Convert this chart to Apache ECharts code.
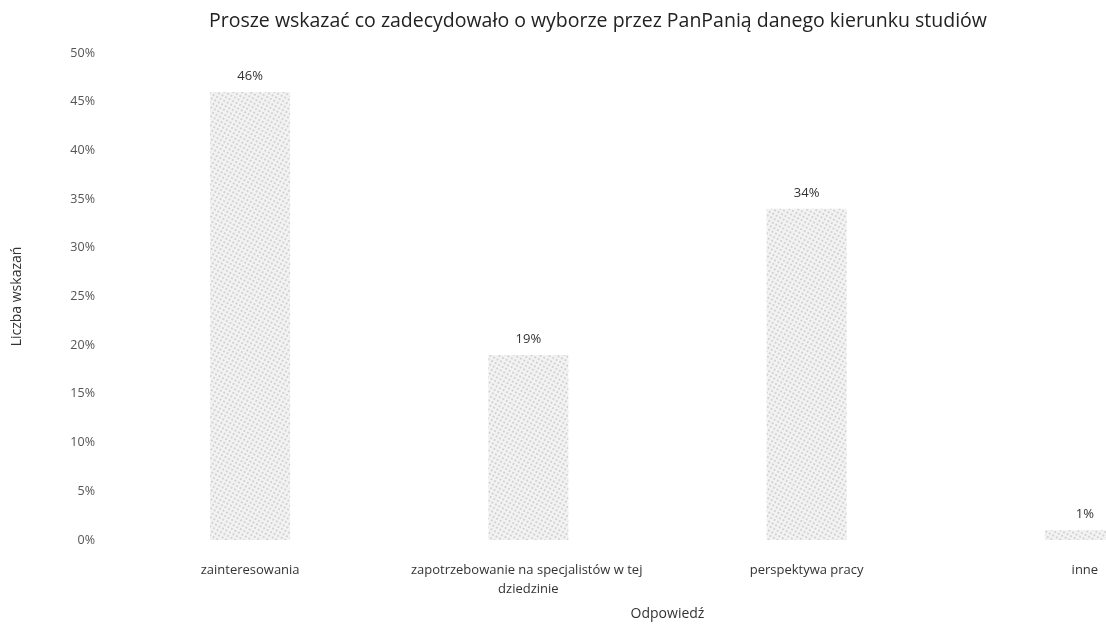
<!DOCTYPE html>
<html>
<head>
<meta charset="utf-8">
<script src="https://cdn.jsdelivr.net/npm/echarts@6/dist/echarts.min.js"></script>
<style>html,body{margin:0;padding:0;background:#fff;overflow:hidden;width:1106px;height:626px;}#c{width:1224px;height:626px;}</style>
</head>
<body>
<div id="c"></div>
<script>
const titleText = 'Prosze wskazać co zadecydowało o wyborze przez PanPanią danego kierunku studiów';
const categories = ['zainteresowania', 'zapotrzebowanie na specjalistów w tej dziedzinie', 'perspektywa pracy', 'inne'];
const values = [46, 19, 34, 1];
const yTicks = [0, 5, 10, 15, 20, 25, 30, 35, 40, 45, 50];
const yAxisName = 'Liczba wskazań';
const xAxisName = 'Odpowiedź';

const chart = echarts.init(document.getElementById('c'), null, {renderer: 'canvas'});
const font = 'Open Sans';
chart.setOption({
  backgroundColor: '#ffffff',
  animation: false,
  title: {
    text: titleText,
    left: 204, top: 6,
    textStyle: {fontFamily: font, fontSize: 19.5, fontWeight: 'normal', color: '#222'}
  },
  grid: {left: 111, right: 0, top: 53, bottom: 78, containLabel: false},
  xAxis: {
    type: 'category',
    data: categories,
    name: xAxisName,
    nameLocation: 'middle',
    nameGap: 67,
    nameTextStyle: {fontFamily: font, fontSize: 14, color: '#333'},
    axisLine: {show: false},
    axisTick: {show: false},
    axisLabel: {
      fontFamily: font, fontSize: 13, color: '#333', margin: 21,
      interval: 0, width: 260, overflow: 'break', lineHeight: 19
    }
  },
  yAxis: {
    type: 'value',
    min: yTicks[0], max: yTicks[yTicks.length - 1], interval: 5,
    name: yAxisName,
    nameLocation: 'middle',
    nameGap: 87,
    nameTextStyle: {fontFamily: font, fontSize: 14, color: '#333'},
    axisLine: {show: false},
    axisTick: {show: false},
    splitLine: {show: false},
    axisLabel: {
      fontFamily: font, fontSize: 12.5, color: '#555', margin: 16,
      formatter: v => v + '%'
    }
  },
  series: [{
    type: 'bar',
    data: values,
    barWidth: 80,
    itemStyle: {
      color: '#f3f3f3',
      decal: {
        symbol: 'circle',
        symbolSize: 0.7,
        color: '#9c9c9c',
        dashArrayX: [2, 2],
        dashArrayY: [2, 2],
        rotation: 0.5
      }
    },
    label: {
      show: true,
      position: 'top',
      distance: 9,
      formatter: p => p.value + '%',
      fontFamily: font, fontSize: 13, color: '#333'
    }
  }]
});
</script>
</body>
</html>
